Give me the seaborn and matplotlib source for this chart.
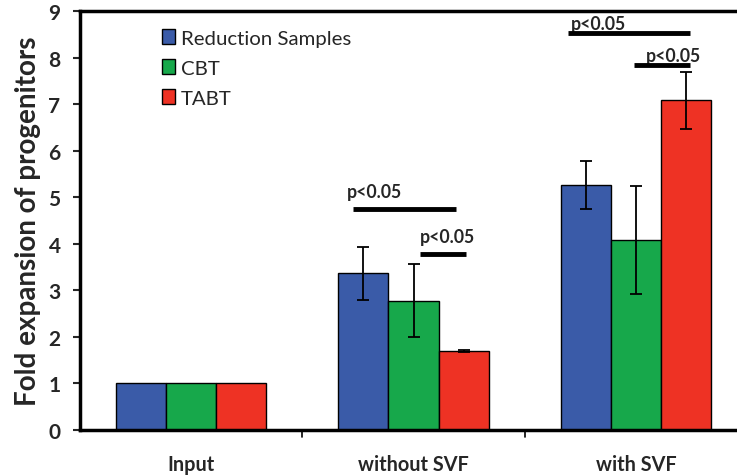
import matplotlib
matplotlib.use("Agg")
import matplotlib.pyplot as plt
import seaborn as sns
import pandas as pd
import numpy as np

categories = ["Input", "without SVF", "with SVF"]
groups = ["Reduction Samples", "CBT", "TABT"]
reduction = [1.0, 3.37, 5.26]
cbt = [1.0, 2.78, 4.08]
tabt = [1.0, 1.69, 7.08]
reduction_err = [0.0, 0.57, 0.52]
cbt_err = [0.0, 0.79, 1.16]
tabt_err = [0.0, 0.02, 0.61]
colors = ["#3A5BA8", "#17A84B", "#EE3224"]
# significance brackets: category index, first/last group, y level, label
sig_cat = [1, 1, 2, 2]
sig_from = [0, 1, 0, 1]
sig_to = [2, 2, 2, 2]
sig_y = [4.75, 3.78, 8.52, 7.85]
sig_text = ["p<0.05", "p<0.05", "p<0.05", "p<0.05"]

rows = []
for cat, r, c, t in zip(categories, reduction, cbt, tabt):
    rows.append((cat, groups[0], r))
    rows.append((cat, groups[1], c))
    rows.append((cat, groups[2], t))
df = pd.DataFrame(rows, columns=["cat", "grp", "val"])
errs = [reduction_err, cbt_err, tabt_err]

sns.set_style("white")
plt.rcParams["font.family"] = ["Lato", "DejaVu Sans"]

fig = plt.figure(figsize=(7.37, 4.77), dpi=100)
ax = fig.add_axes([80 / 737, 46 / 477, 667 / 737, 419 / 477])

sns.barplot(data=df, x="cat", y="val", hue="grp", order=categories,
            hue_order=groups, palette=colors, width=0.675, errorbar=None,
            edgecolor="black", linewidth=1.0, saturation=1, ax=ax)

bar_conts = list(ax.containers)
centers = {}
for gi, cont in enumerate(bar_conts):
    for ci, bar in enumerate(cont):
        x = bar.get_x() + bar.get_width() / 2
        centers[(ci, gi)] = x
        e = errs[gi][ci]
        if e > 0:
            ax.errorbar(x, bar.get_height(), yerr=e, fmt="none", ecolor="black",
                        elinewidth=1.3, capsize=4, capthick=1.3, zorder=5)

bw = bar_conts[0][0].get_width()
# hand-drawn offsets of the brackets (in bar widths) and label gaps
off0 = [-0.2, 0.12, -0.36, -0.04]
off1 = [-0.15, 0.04, 0.08, 0.08]
toff = [-0.14, 0.0, 0.06, 0.24]
gap = [0.2, 0.2, 0.02, 0.02]
for i, (ci, g0, g1, y, txt) in enumerate(zip(sig_cat, sig_from, sig_to, sig_y, sig_text)):
    x0 = centers[(ci, g0)] + bw * off0[i]
    x1 = centers[(ci, g1)] + bw * off1[i]
    ax.plot([x0, x1], [y, y], color="black", lw=3.5, solid_capstyle="butt", zorder=6)
    ax.text(x0 + bw * toff[i], y + gap[i], txt, fontsize=12.7,
            fontweight="bold", ha="left", va="bottom")

ax.set_xlim(-0.5, 2.5)
ax.set_ylim(0, 9)
ax.set_yticks(range(0, 10))
ax.set_yticklabels([str(i) for i in range(10)], fontsize=15, fontweight="bold")
ax.set_xticks([0, 1, 2])
ax.set_xticklabels(categories, fontsize=14.3, fontweight="bold")
ax.tick_params(axis="x", length=0, pad=17)
ax.tick_params(axis="y", direction="out", length=5, width=1.5, left=True, pad=9)
for b in [0.5, 1.5]:
    ax.plot([b, b], [0, -0.15], color="black", lw=1.2, clip_on=False)
ax.set_xlabel("")
ax.set_ylabel("Fold expansion of progenitors", fontsize=20, fontweight="bold",
              labelpad=5)

for s in ["left", "bottom", "top"]:
    ax.spines[s].set_visible(True)
    ax.spines[s].set_color("black")
    ax.spines[s].set_linewidth(2.5)
ax.spines["right"].set_visible(False)

leg = ax.legend(loc="upper left", bbox_to_anchor=(0.095, 1.0), frameon=False,
                fontsize=14.7, handlelength=0.65, handleheight=0.75,
                handletextpad=0.3, labelspacing=0.6)

fig.savefig("out.png", dpi=100)
